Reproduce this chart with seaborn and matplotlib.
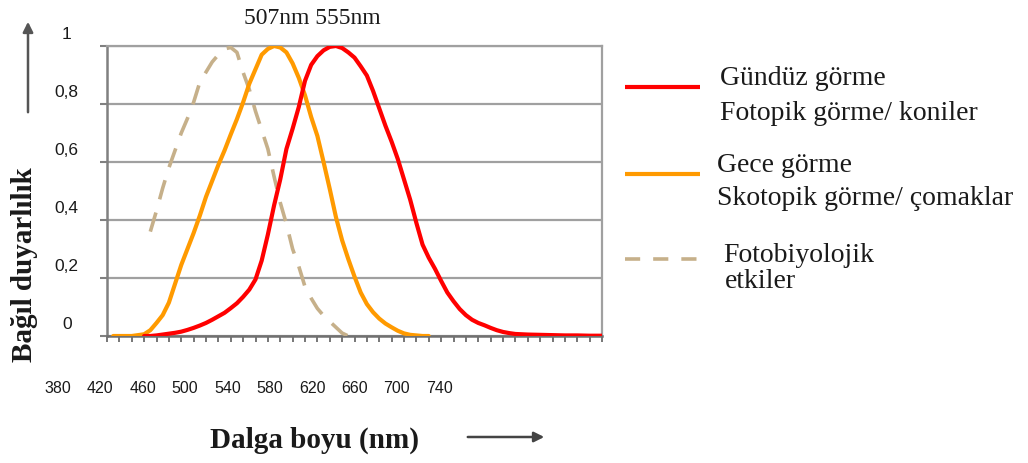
import numpy as np
import pandas as pd
import matplotlib
matplotlib.use("Agg")
import matplotlib.pyplot as plt
from matplotlib.lines import Line2D
from matplotlib.patches import FancyArrowPatch
from matplotlib.transforms import ScaledTranslation
import seaborn as sns

# --- data -------------------------------------------------------------
# Photopic (day vision, cones) relative sensitivity
photopic_nm = [400, 405, 410, 415, 420, 425, 430, 435, 440, 445,
               450, 455, 460, 465, 470, 475, 480, 485, 490, 495,
               500, 505, 510, 515, 520, 525, 530, 535, 540, 545,
               550, 555, 560, 565, 570, 575, 580, 585, 590, 595,
               600, 605, 610, 615, 620, 625, 630, 635, 640, 645,
               650, 655, 660, 665, 670, 675, 680, 685, 690, 695,
               700, 710, 720, 730, 740, 750, 760, 770]
photopic_val = [0.0, 0.0, 0.002, 0.005, 0.008, 0.011, 0.015, 0.021, 0.028, 0.036,
                0.045, 0.056, 0.068, 0.08, 0.096, 0.113, 0.135, 0.16, 0.195, 0.26,
                0.35, 0.45, 0.54, 0.645, 0.715, 0.79, 0.88, 0.935, 0.965, 0.985,
                0.997, 1.0, 0.993, 0.978, 0.96, 0.93, 0.898, 0.845, 0.785, 0.725,
                0.67, 0.61, 0.54, 0.47, 0.39, 0.315, 0.27, 0.232, 0.19, 0.15,
                0.12, 0.093, 0.072, 0.056, 0.045, 0.037, 0.028, 0.02, 0.014, 0.01,
                0.007, 0.005, 0.004, 0.003, 0.002, 0.002, 0.001, 0.001]

# Scotopic (night vision, rods) relative sensitivity
scotopic_nm = [375, 380, 385, 390, 395, 400, 405, 410, 415, 420,
               425, 430, 435, 440, 445, 450, 455, 460, 465, 470,
               475, 480, 485, 490, 495, 500, 505, 510, 515, 520,
               525, 530, 535, 540, 545, 550, 555, 560, 565, 570,
               575, 580, 585, 590, 595, 600, 605, 610, 615, 620,
               625, 630]
scotopic_val = [0.0, 0.0, 0.0, 0.0, 0.003, 0.006, 0.02, 0.045, 0.072, 0.115,
                0.18, 0.245, 0.3, 0.355, 0.415, 0.48, 0.535, 0.59, 0.64, 0.695,
                0.748, 0.806, 0.87, 0.92, 0.97, 0.99, 1.0, 0.995, 0.978, 0.94,
                0.89, 0.83, 0.755, 0.69, 0.6, 0.507, 0.41, 0.33, 0.265, 0.205,
                0.15, 0.11, 0.082, 0.06, 0.043, 0.03, 0.018, 0.009, 0.004, 0.002,
                0.0, 0.0]

# Photobiological effects
melanopic_nm = [405, 410, 415, 420, 425, 430, 435, 440, 445, 450,
                455, 460, 465, 470, 475, 480, 485, 490, 495, 500,
                505, 510, 515, 520, 525, 530, 535, 540, 545, 550,
                555, 560, 565]
melanopic_val = [0.36, 0.432, 0.51, 0.58, 0.64, 0.70, 0.75, 0.806, 0.875, 0.91,
                 0.945, 0.97, 0.99, 0.995, 0.978, 0.909, 0.85, 0.775, 0.71, 0.645,
                 0.55, 0.46, 0.386, 0.30, 0.24, 0.17, 0.13, 0.095, 0.07, 0.05,
                 0.03, 0.01, 0.0]

y_ticks = [0, 0.2, 0.4, 0.6, 0.8, 1.0]
y_tick_labels = ["0", "0,2", "0,4", "0,6", "0,8", "1"]
x_tick_labels = ["380", "420", "460", "500", "540", "580", "620", "660", "700", "740"]
legend_labels = [("Gündüz görme", "Fotopik görme/ koniler"),
                 ("Gece görme", "Skotopik görme/ çomaklar"),
                 ("Fotobiyolojik", "etkiler")]
peak_label = "507nm 555nm"
x_label = "Dalga boyu (nm)"
y_label = "Bağıl duyarlılık"

# --- style ------------------------------------------------------------
sns.set_style("white")
plt.rcParams["font.family"] = ["Liberation Serif", "DejaVu Serif"]
SANS = ["Liberation Sans", "DejaVu Sans"]

RED = "#ff0000"
ORANGE = "#ff9a00"
TAN = "#c6b08a"
GRID = "#a0a0a0"
TEXT = "#1a1a1a"
LW = 3.0

W, H = 1028, 464
fig = plt.figure(figsize=(W / 100, H / 100), dpi=100)
ax = fig.add_axes([107 / W, 1 - 337 / H, (602 - 107) / W, (337 - 47) / H])


def fx(px):
    return px / W


def fy(py):
    return 1 - py / H


df_p = pd.DataFrame({"nm": photopic_nm, "v": photopic_val})
df_s = pd.DataFrame({"nm": scotopic_nm, "v": scotopic_val})
df_m = pd.DataFrame({"nm": melanopic_nm, "v": melanopic_val})

sns.lineplot(data=df_s, x="nm", y="v", ax=ax, color=ORANGE, lw=LW, zorder=4)
sns.lineplot(data=df_p, x="nm", y="v", ax=ax, color=RED, lw=LW, zorder=5)
sns.lineplot(data=df_m, x="nm", y="v", ax=ax, color=TAN, lw=2.6, zorder=3)
ax.lines[-1].set_dashes((5.5, 3.8))
for ln in ax.lines:
    ln.set_solid_capstyle("round")
    ln.set_solid_joinstyle("round")

ax.set_xlim(370, 770)
ax.set_ylim(0, 1)

# grid and frame
ax.set_yticks(y_ticks)
ax.yaxis.grid(True, color=GRID, lw=1.6)
ax.xaxis.grid(False)
ax.set_axisbelow(True)
for side in ["top", "right"]:
    ax.spines[side].set_color(GRID)
    ax.spines[side].set_linewidth(1.6)
ax.spines["left"].set_color("#808080")
ax.spines["left"].set_linewidth(1.8)
ax.spines["bottom"].set_color("#707070")
ax.spines["bottom"].set_linewidth(1.8)

# y ticks: short marks left of the axis, labels raised above the grid lines
ax.set_yticklabels(y_tick_labels, family=SANS, fontsize=12.5, color=TEXT, ha="center")
ax.tick_params(axis="y", direction="out", length=5, width=1.5, color="#808080",
               pad=24, left=True)
for lab in ax.get_yticklabels():
    lab.set_transform(lab.get_transform() + ScaledTranslation(0, 0.14, fig.dpi_scale_trans))

# x ticks: minor marks every 10 nm, no labels on the axis itself
ax.set_xticks(np.arange(370, 771, 10))
ax.set_xticklabels([])
ax.tick_params(axis="x", direction="out", length=4, width=1.2, color="#606060",
               bottom=True)
ax.set_xlabel("")
ax.set_ylabel("")

# wavelength labels set in a separate row below the axis
for lab, xf in zip(x_tick_labels, np.linspace(-0.099, 0.671, len(x_tick_labels))):
    ax.text(xf, -0.176, lab, transform=ax.transAxes, ha="center", va="center",
            family=SANS, fontsize=11.5, color=TEXT, clip_on=False)

# titles and axis captions
fig.text(fx(312), fy(18), peak_label, ha="center", va="center",
         fontsize=17, color=TEXT)
fig.text(fx(315), fy(440), x_label, ha="center", va="center",
         fontsize=21, fontweight="bold", color=TEXT)
fig.text(fx(25), fy(265), y_label, ha="center", va="center", rotation=90,
         fontsize=21, fontweight="bold", color=TEXT)

# direction arrows
fig.add_artist(FancyArrowPatch(
    (fx(28), fy(116)), (fx(28), fy(20)), transform=fig.transFigure,
    arrowstyle="-|>,head_length=6,head_width=3", color="#555555", lw=1.8,
    mutation_scale=1))
fig.add_artist(FancyArrowPatch(
    (fx(465), fy(438)), (fx(547), fy(438)), transform=fig.transFigure,
    arrowstyle="-|>,head_length=6,head_width=3", color="#444444", lw=1.8,
    mutation_scale=1))

# legend: sample line followed by a two-line caption
legend_styles = [dict(color=RED, lw=LW, solid_capstyle="butt"),
                 dict(color=ORANGE, lw=LW, solid_capstyle="butt"),
                 dict(color=TAN, lw=2.6, dashes=(4.2, 3.6))]
legend_line_y = [88, 175, 260]
legend_line_x = [(625, 700), (625, 700), (625, 697)]
legend_text_x = [720, 717, 723]
legend_base_y = [(85, 120), (172, 205), (262, 288)]
for style, ly, (x0, x1), tx, (b1, b2), (l1, l2) in zip(
        legend_styles, legend_line_y, legend_line_x, legend_text_x,
        legend_base_y, legend_labels):
    fig.add_artist(Line2D([fx(x0), fx(x1)], [fy(ly), fy(ly)],
                          transform=fig.transFigure, **style))
    fig.text(fx(tx), fy(b1), l1, ha="left", va="baseline", fontsize=20, color=TEXT)
    fig.text(fx(tx + (2 if l2 == "etkiler" else 0)), fy(b2), l2, ha="left",
             va="baseline", fontsize=20, color=TEXT)

fig.savefig("out.png", dpi=100, facecolor="white")
